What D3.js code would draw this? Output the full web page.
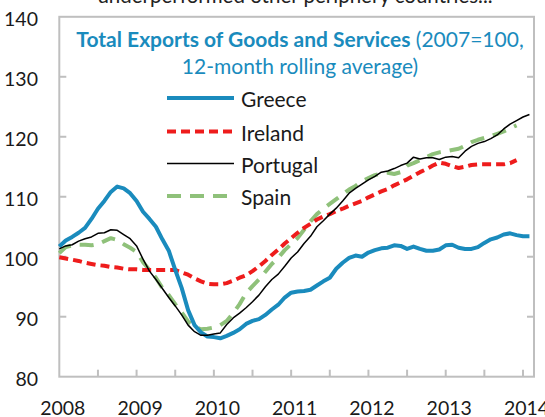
<!DOCTYPE html>
<html><head><meta charset="utf-8">
<script src="https://cdn.jsdelivr.net/npm/d3@7"></script>
<style>
html,body{margin:0;padding:0;background:#fff;}
svg{display:block;font-family:Lato,"Open Sans",sans-serif;}
</style></head>
<body><svg id="c" width="545" height="417"></svg>
<script>
const yearLabels = ["2008","2009","2010","2011","2012","2013","2014"];
const yTickValues = [80,90,100,110,120,130,140];
const seriesNames = ["Greece","Ireland","Portugal","Spain"];
const greece = [101.7,102.7,103.3,104,104.8,106.3,108,109.3,110.8,111.7,111.4,110.6,109.3,107.5,106.3,105,102.9,101,97.8,94.8,91.1,88.6,87.4,86.7,86.6,86.4,86.8,87.3,87.9,88.8,89.3,89.6,90.3,91.2,92,93.2,94,94.2,94.3,94.5,95.2,95.9,96.5,98,99,99.8,100.2,100,100.7,101.1,101.4,101.5,101.9,101.8,101.3,101.7,101.3,101,101,101.2,101.9,102,101.5,101.3,101.3,101.6,102.3,102.9,103.2,103.7,103.9,103.6,103.4,103.4];
const ireland = [99.9,99.7,99.5,99.3,99.0,98.8,98.6,98.5,98.3,98.2,98.0,97.9,97.9,97.8,97.8,97.8,97.8,97.8,97.8,97.4,97.0,96.4,95.9,95.5,95.4,95.4,95.6,96.0,96.5,96.9,97.6,98.4,99.3,100.3,101.2,102.2,103.1,104.0,104.8,105.5,106.2,106.7,107.1,107.6,108.0,108.5,108.9,109.3,109.9,110.4,110.9,111.3,111.9,112.4,112.9,113.5,114.1,114.6,115.2,115.7,115.5,115.1,114.8,115.0,115.3,115.4,115.4,115.4,115.4,115.4,115.6,116.1];
const portugal = [101.3,101.8,102,102.6,103.0,103.3,103.9,104.0,104.5,104.4,103.7,103.0,101.8,99.6,97.6,96.2,94.7,93.2,91.8,90.3,88.6,87.5,86.9,86.9,87.1,87.3,88.7,89.8,90.6,91.5,92.5,93.6,95,96.2,97.1,98.4,99.8,100.8,102.2,103.4,105,106,107.1,108.1,109.3,110.6,111.4,112.1,112.8,113.4,114.1,114.3,114.7,115.2,115.6,116.6,116.3,116.5,116.5,116.2,116.6,116.7,116.5,117.6,118.4,118.9,119.2,119.7,120.3,121.3,122.1,122.7,123.3,123.7];
const spain = [100.6,101.6,101.9,102,102,101.9,102.1,102.6,103.1,102.8,102.1,101.5,100.8,99.1,97.8,96.5,94.8,93.6,92.1,90.7,89.2,88.3,87.9,88,88.2,88.6,89.3,90.6,92.1,93.9,95.1,96.2,97.5,98.8,99.8,101.1,102.1,103.1,104.5,105.9,107.1,108,108.8,109.6,110.4,111.2,111.8,112.6,113.1,113.6,113.9,114,113.8,114.1,115.2,115.6,116.1,116.6,117.1,117.4,117.6,117.8,118,118.5,119.1,119.5,119.8,120.1,120.5,120.9,121.4,121.9];
const startYear = 2008;

const svg = d3.select("#c");
const pL = 59.3, pR = 534, pT = 16.8, pB = 376.7;
const x = d3.scaleLinear().domain([2008, 2014]).range([pL, 523]);
const y = d3.scaleLinear().domain([80, 140]).range([pB, pT]);
const frameColor = "#bfbfbf";

// partial text above (cut off)
svg.append("text").attr("x", 295).attr("y", 3).attr("text-anchor","middle")
  .attr("font-size", 20.5).attr("fill","#222").text("underperformed other periphery countries...");

// frame
svg.append("rect").attr("x", pL).attr("y", pT).attr("width", pR-pL).attr("height", pB-pT)
  .attr("fill","none").attr("stroke", frameColor).attr("stroke-width", 2);

// y ticks both sides
const yt = svg.append("g");
yTickValues.forEach(v => {
  if (v !== 80 && v !== 140) {
    yt.append("line").attr("x1", pL).attr("x2", pL+7).attr("y1", y(v)).attr("y2", y(v)).attr("stroke", frameColor).attr("stroke-width", 2);
    yt.append("line").attr("x1", pR).attr("x2", pR-7).attr("y1", y(v)).attr("y2", y(v)).attr("stroke", frameColor).attr("stroke-width", 2);
  }
  yt.append("text").attr("x", 38).attr("y", y(v)+9.5).attr("text-anchor","end")
    .attr("font-size", 19.5).attr("fill","#1a1a1a").text(v);
});

// x ticks at half-years
const halfYears = d3.range(2008.5, 2014.01, 0.5);
svg.append("g").selectAll("line").data(halfYears).join("line")
  .attr("x1", d => x(d)).attr("x2", d => x(d)).attr("y1", pB).attr("y2", pB-7)
  .attr("stroke", frameColor).attr("stroke-width", 2);
svg.append("g").selectAll("text").data(yearLabels).join("text")
  .attr("x", d => x(+d)+3.5).attr("y", 414.5).attr("text-anchor","middle")
  .attr("font-size", 19.5).attr("fill","#1a1a1a").text(d => d);

// title
const title = svg.append("text").attr("x", 300).attr("y", 47).attr("text-anchor","middle")
  .attr("font-size", 21).attr("fill","#1a8bbd");
title.append("tspan").attr("font-weight","bold").text("Total Exports of Goods and Services");
title.append("tspan").text(" (2007=100,");
svg.append("text").attr("x", 300).attr("y", 74).attr("text-anchor","middle")
  .attr("font-size", 21).attr("fill","#1a8bbd").text("12-month rolling average)");

// lines
const styles = {
  Greece: {data: greece, color: "#1a8bbd", width: 4, dash: null},
  Ireland: {data: ireland, color: "#ee1c1c", width: 4, dash: "9,5"},
  Portugal: {data: portugal, color: "#000", width: 1.5, dash: null},
  Spain: {data: spain, color: "#8fc17a", width: 4, dash: "14,9"}
};
const line = d3.line().x((d,i) => x(startYear + i/12)).y(d => y(d)).curve(d3.curveLinear);
["Spain","Ireland","Greece","Portugal"].forEach(n => {
  const s = styles[n];
  svg.append("path").datum(s.data).attr("d", line).attr("fill","none")
    .attr("stroke", s.color).attr("stroke-width", s.width).attr("stroke-linejoin","round")
    .attr("stroke-dasharray", s.dash);
});

// legend
const legY = [98, 131.5, 163.5, 196];
seriesNames.forEach((n, i) => {
  const s = styles[n];
  svg.append("line").attr("x1", 167).attr("x2", 234).attr("y1", legY[i]).attr("y2", legY[i])
    .attr("stroke", s.color).attr("stroke-width", s.width).attr("stroke-dasharray", s.dash);
  svg.append("text").attr("x", 241).attr("y", legY[i]+9).attr("font-size", 21).attr("fill","#1a1a1a").text(n);
});
</script></body></html>
